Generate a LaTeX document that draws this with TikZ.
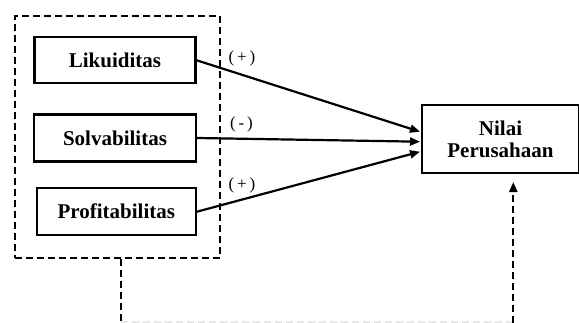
\documentclass[tikz,border=0pt]{standalone}
\usepackage{fontspec}
\setmainfont{Liberation Serif}
\usetikzlibrary{arrows.meta}
\begin{document}
\begin{tikzpicture}[x=1pt,y=-1pt,
  varbox/.style={draw,line width=2.3pt,inner sep=0pt,font=\fontsize{21}{24}\selectfont\bfseries,align=center},
  conn/.style={line width=2.2pt,-{Triangle[length=10pt,width=8pt]}},
  dconn/.style={line width=2.2pt,dash pattern=on 7pt off 4pt},
  sign/.style={inner sep=0pt,font=\fontsize{17}{19}\selectfont}]
\useasboundingbox (0,0) rectangle (579,322);
\clip (0,0) rectangle (579,322);
\node[varbox,minimum width=161pt,minimum height=46pt] (lik) at (115,60.3) {Likuiditas};
\node[varbox,minimum width=162pt,minimum height=47pt] (sol) at (115,138) {Solvabilitas};
\node[varbox,minimum width=159pt,minimum height=47pt] (pro) at (116.3,211.7) {Profitabilitas};
\node[varbox,minimum width=157pt,minimum height=68pt] (nil) at (500.5,139.2) {Nilai\\[-2pt]Perusahaan};
\node[draw,dconn,minimum width=205pt,minimum height=242pt,inner sep=0pt] (grp) at (117.3,136.7) {};
\coordinate (t1) at (420,131.7);
\coordinate (t2) at (420,141.7);
\coordinate (t3) at (420,151.7);
\draw[conn] (lik.east) -- (t1);
\draw[conn] (sol.east) -- (t2);
\draw[conn] (pro.east) -- (t3);
\node[sign] (s1) at (242,58) {(\,+\,)};
\node[sign] (s2) at (241.5,124.5) {(\,-\,)};
\node[sign] (s3) at (242,185) {(\,+\,)};
\coordinate (b1) at (121,322.5);
\coordinate (b2) at (513.3,322.5);
\coordinate (a2) at (513.3,182);
\draw[dconn] (grp.south -| b1) -- (b1);
\draw[dconn,gray!18] (b1) -- (b2);
\draw[dconn,-{Triangle[length=10pt,width=8pt]}] (b2) -- (a2);
\end{tikzpicture}
\end{document}
